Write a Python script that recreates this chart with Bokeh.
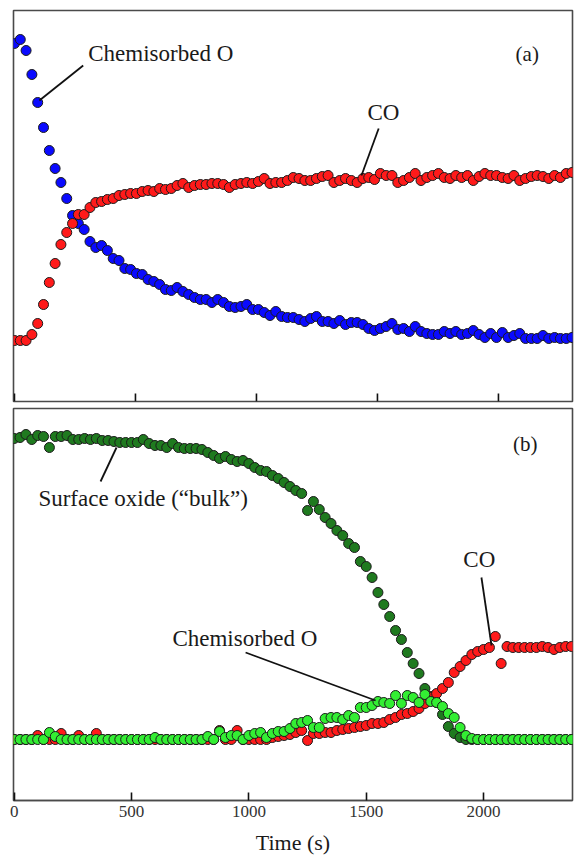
from bokeh.plotting import figure
from bokeh.layouts import column
from bokeh.models import Range1d, FixedTicker, Label
from bokeh.embed import file_html
from bokeh.resources import INLINE

# ---------------- data: panel (a) ----------------
time_a = [0, 24, 48, 72, 96, 120, 144, 168, 192, 216, 240, 264, 288, 312, 336, 360,
          384, 408, 432, 456, 480, 504, 528, 552, 576, 600, 624, 648, 672, 696, 720, 744,
          768, 792, 816, 840, 864, 888, 912, 936, 960, 984, 1008, 1032, 1056, 1080, 1104,
          1128, 1152, 1176, 1200, 1224, 1248, 1272, 1296, 1320, 1344, 1368, 1392, 1416,
          1440, 1464, 1488, 1512, 1536, 1560, 1584, 1608, 1632, 1656, 1680, 1704, 1728,
          1752, 1776, 1800, 1824, 1848, 1872, 1896, 1920, 1944, 1968, 1992, 2016, 2040,
          2064, 2088, 2112, 2136, 2160, 2184, 2208, 2232, 2256, 2280, 2304]

chem_o_a = [358, 362, 351, 327, 299, 274, 251, 233, 219, 203, 186, 178, 172, 160, 154, 156,
            151, 143, 141, 133, 132, 128, 127, 122, 120, 117, 112, 111, 114, 110, 107, 104,
            102, 102, 99, 102, 99, 95, 94, 95, 97, 92, 92, 89, 86, 90, 85, 84,
            84, 82, 80, 83, 85, 80, 80, 78, 81, 77, 79, 79, 77, 73, 71, 73,
            75, 78, 72, 73, 70, 75, 70, 68, 67, 67, 70, 68, 70, 67, 68, 71,
            67, 64, 68, 64, 69, 64, 66, 68, 63, 63, 63, 66, 63, 64, 63, 63, 64]

co_a = [61, 61, 61, 67, 78, 97, 119, 138, 157, 169, 178, 187, 187, 194, 199, 200,
        202, 203, 206, 207, 208, 208, 210, 211, 210, 213, 212, 213, 216, 218, 214, 216,
        217, 217, 218, 218, 217, 214, 217, 218, 219, 218, 220, 223, 218, 219, 219, 221,
        224, 223, 221, 221, 223, 225, 226, 219, 221, 223, 221, 219, 223, 224, 222, 228,
        226, 226, 219, 221, 224, 228, 221, 224, 226, 228, 224, 223, 226, 224, 226, 221,
        225, 228, 226, 226, 224, 223, 226, 221, 223, 225, 226, 225, 223, 226, 224, 228, 229]

# ---------------- data: panel (b) ----------------
time_b = [0, 25, 50, 75, 100, 125, 150, 175, 200, 225, 250, 275, 300, 325, 350, 375,
          400, 425, 450, 475, 500, 525, 550, 575, 600, 625, 650, 675, 700, 725, 750, 775,
          800, 825, 850, 875, 900, 925, 950, 975, 1000, 1025, 1050, 1075, 1100, 1125, 1150,
          1175, 1200, 1225, 1250, 1275, 1300, 1325, 1350, 1375, 1400, 1425, 1450, 1475,
          1500, 1525, 1550, 1575, 1600, 1625, 1650, 1675, 1700, 1725, 1750, 1775, 1800,
          1825, 1850, 1875, 1900, 1925, 1950, 1975, 2000, 2025, 2050, 2075, 2100, 2125,
          2150, 2175, 2200, 2225, 2250, 2275, 2300, 2325, 2350, 2375]

oxide_b = [362, 363, 366, 361, 365, 364, 353, 364, 364, 365, 361, 361, 362, 361, 362, 360,
           360, 359, 358, 358, 358, 358, 361, 357, 355, 355, 353, 357, 353, 352, 352, 352,
           351, 348, 345, 342, 344, 341, 339, 340, 337, 333, 330, 329, 325, 322, 318, 314,
           310, 307, 290, 299, 291, 283, 277, 270, 265, 257, 253, 239, 234, 223, 208, 196,
           184, 170, 161, 148, 137, 127, 112, 104, 98, 86, 74, 67, 63, 61, 61, 61,
           61, 61, 61, 61, 61, 61, 61, 61, 61, 61, 61, 61, 61, 61, 61, 61]

chem_o_b = [61, 61, 61, 61, 61, 61, 68, 64, 61, 61, 61, 61, 61, 61, 61, 61,
            61, 61, 61, 61, 61, 61, 61, 61, 63, 61, 61, 61, 61, 61, 61, 61,
            61, 64, 61, 69, 63, 65, 65, 61, 65, 67, 68, 63, 67, 69, 69, 72,
            77, 78, 80, 73, 73, 82, 83, 83, 81, 85, 83, 93, 93, 95, 99, 98,
            97, 105, 97, 105, 103, 98, 106, 99, 98, 94, 87, 83, 73, 65, 62, 61,
            61, 61, 61, 61, 61, 61, 61, 61, 61, 61, 61, 61, 61, 61, 61, 61]

co_b = [61, 61, 61, 61, 65, 61, 61, 61, 67, 61, 61, 65, 61, 61, 67, 61,
        61, 61, 61, 61, 61, 61, 61, 61, 61, 61, 61, 61, 61, 61, 61, 61,
        61, 61, 61, 70, 61, 61, 70, 61, 61, 61, 61, 61, 63, 64, 65, 66,
        68, 70, 60, 67, 67, 68, 68, 70, 71, 72, 73, 74, 75, 77, 77, 78,
        81, 83, 86, 87, 89, 92, 97, 103, 107, 112, 118, 128, 134, 140, 146, 149,
        151, 153, 164, 137, 154, 153, 153, 153, 153, 153, 154, 153, 151, 153, 154, 154]

x_ticks = [0, 500, 1000, 1500, 2000]

# ---------------- styling ----------------
SERIF = "Liberation Serif"
TXT = "#1a1a1a"
FRAME = "#4a4a4a"
EDGE = "#1a1a1a"
RED = "#ff1a1a"
BLUE = "#0a0aff"
DKGREEN = "#1f7a1f"
LTGREEN = "#33ee33"
MSIZE = 10
TICK_LEN = 8  # px (1 data unit == 1 px vertically)


def base_fig(height, x_start, x_end, y_end, top, bottom):
    p = figure(width=575, height=height, output_backend="svg", toolbar_location=None,
               x_range=Range1d(x_start, x_end), y_range=Range1d(0, y_end),
               min_border_left=13, min_border_right=3, min_border_top=top,
               min_border_bottom=bottom, background_fill_color="white",
               border_fill_color="white")
    p.grid.visible = False
    p.yaxis.visible = False
    p.outline_line_color = FRAME
    p.outline_line_width = 1.6
    return p


def annotate(p, text, x, y, align="left", size="23px"):
    p.add_layout(Label(x=x, y=y, text=text, text_font=SERIF, text_font_size=size,
                       text_color=TXT, text_align=align, text_baseline="middle"))


# ---------------- panel (a) ----------------
pa = base_fig(404, -4, 2306, 391, 10, 3)
pa.xaxis.visible = False
# inward tick marks at the bottom of panel (a), no labels
pa.segment(x0=x_ticks, y0=[0] * len(x_ticks), x1=x_ticks, y1=[TICK_LEN] * len(x_ticks),
           line_color="#111111", line_width=1.6)
pa.scatter(time_a, chem_o_a, size=MSIZE, fill_color=BLUE, line_color=EDGE, line_width=1)
pa.scatter(time_a, co_a, size=MSIZE, fill_color=RED, line_color=EDGE, line_width=1)

pa.line([284, 103], [336, 301], line_color="#111111", line_width=1.8)
pa.line([1505, 1434], [273, 226], line_color="#111111", line_width=1.8)
annotate(pa, "Chemisorbed O", 305, 348)
annotate(pa, "CO", 1525, 289, align="center")
annotate(pa, "(a)", 2119, 348, align="center", size="21px")

# ---------------- panel (b) ----------------
pb = base_fig(456, -3, 2379, 392, 4, 60)
pb.xaxis.ticker = FixedTicker(ticks=x_ticks)
pb.xaxis.minor_tick_line_color = None
pb.xaxis.major_tick_in = TICK_LEN
pb.xaxis.major_tick_out = 0
pb.xaxis.major_tick_line_color = "#111111"
pb.xaxis.major_tick_line_width = 1.6
pb.xaxis.axis_line_color = FRAME
pb.xaxis.axis_line_width = 1.6
pb.xaxis.major_label_text_font = SERIF
pb.xaxis.major_label_text_font_size = "17px"
pb.xaxis.major_label_text_color = "#333333"
pb.xaxis.major_label_standoff = 5
pb.xaxis.axis_label = "Time (s)"
pb.xaxis.axis_label_text_font = SERIF
pb.xaxis.axis_label_text_font_size = "22px"
pb.xaxis.axis_label_text_font_style = "normal"
pb.xaxis.axis_label_text_color = TXT
pb.xaxis.axis_label_standoff = 10

pb.scatter(time_b, oxide_b, size=MSIZE, fill_color=DKGREEN, line_color=EDGE, line_width=1)
pb.scatter(time_b, co_b, size=MSIZE, fill_color=RED, line_color=EDGE, line_width=1)
pb.scatter(time_b, chem_o_b, size=MSIZE, fill_color=LTGREEN, line_color=EDGE, line_width=1)

pb.line([368, 436], [319, 353], line_color="#111111", line_width=1.8)
pb.line([1991, 2034], [223, 155], line_color="#111111", line_width=1.8)
pb.line([986, 1540], [148, 100], line_color="#111111", line_width=1.8)
annotate(pb, "Surface oxide (\u201cbulk\u201d)", 103, 302)
annotate(pb, "CO", 1982, 241, align="center")
annotate(pb, "Chemisorbed O", 674, 162)
annotate(pb, "(b)", 2178, 357, align="center", size="21px")

layout = column(pa, pb, spacing=0)
open("out.html", "w").write(file_html(layout, INLINE))
